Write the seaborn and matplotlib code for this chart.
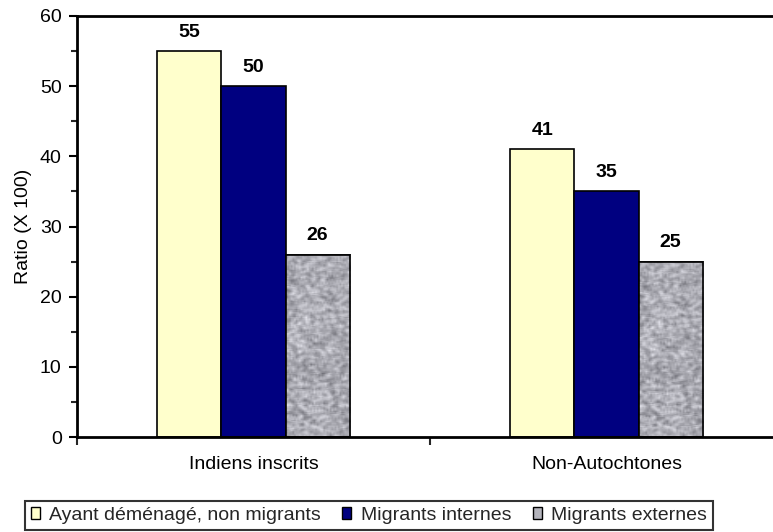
import numpy as np
import pandas as pd
import matplotlib
matplotlib.use("Agg")
import matplotlib.pyplot as plt
from matplotlib.patches import Patch
from matplotlib.ticker import MultipleLocator, FixedLocator
import seaborn as sns

groups = ["Indiens inscrits", "Non-Autochtones"]
series = ["Ayant déménagé, non migrants", "Migrants internes", "Migrants externes"]
values_indiens = [55, 50, 26]
values_non_autochtones = [41, 35, 25]

colors = ["#FFFFCC", "#000080", "#B4B4BC"]

rows = []
for g, vals in zip(groups, [values_indiens, values_non_autochtones]):
    for s, v in zip(series, vals):
        rows.append({"groupe": g, "serie": s, "ratio": v})
df = pd.DataFrame(rows)

sns.set_theme(style="white")
plt.rcParams["font.family"] = ["Liberation Sans", "DejaVu Sans"]

fig = plt.figure(figsize=(7.73, 5.32), dpi=100)
ax = fig.add_axes([77 / 773, 1 - 437 / 532, (783 - 77) / 773, (437 - 16) / 532])

sns.barplot(data=df, x="groupe", y="ratio", hue="serie", order=groups,
            hue_order=series, palette=colors, width=0.544, gap=0,
            edgecolor="black", linewidth=1.2, saturation=1, legend=False, ax=ax)

ax.set_xlim(-0.5, 1.5)
ax.set_ylim(0, 60)

n_groups = len(groups)
bars = list(ax.patches[:3 * n_groups])

# granite-like texture on the external migrants bars
rng = np.random.default_rng(7)
noise = rng.random((160, 40))
pad = np.pad(noise, 1, mode="edge")
smooth = sum(pad[i:i + noise.shape[0], j:j + noise.shape[1]] / 9.0
             for i in range(3) for j in range(3))
smooth = (smooth - smooth.min()) / (smooth.max() - smooth.min())
tex = np.empty(smooth.shape + (3,))
lo = np.array([0.45, 0.45, 0.48])
hi = np.array([0.90, 0.90, 0.93])
for c in range(3):
    tex[..., c] = lo[c] + (hi[c] - lo[c]) * smooth
for bar in bars[2 * n_groups:3 * n_groups]:
    x0, w = bar.get_x(), bar.get_width()
    h = bar.get_height()
    im = ax.imshow(tex, extent=[x0, x0 + w, 0, h], aspect="auto",
                   interpolation="bilinear", zorder=bar.get_zorder() + 0.1)
    im.set_clip_path(bar)
    outline = plt.Rectangle((x0, 0), w, h, facecolor="none", edgecolor="black",
                            linewidth=1.2, zorder=bar.get_zorder() + 0.2)
    ax.add_patch(outline)

ax.set_xlim(-0.5, 1.5)
ax.set_ylim(0, 60)

# value labels
for bar in bars:
    h = bar.get_height()
    ax.annotate(f"{h:.0f}", (bar.get_x() + bar.get_width() / 2, h),
                xytext=(0, 7.5), textcoords="offset points", ha="center",
                va="bottom", fontsize=14, fontweight="bold", color="black")

# spines and ticks
for side in ["left", "bottom", "top"]:
    ax.spines[side].set_visible(True)
    ax.spines[side].set_color("black")
    ax.spines[side].set_linewidth(2)
ax.spines["right"].set_visible(False)

ax.yaxis.set_major_locator(MultipleLocator(10))
ax.yaxis.set_minor_locator(MultipleLocator(5))
ax.tick_params(axis="y", which="major", direction="out", length=6, width=1.5,
               left=True, labelsize=14, colors="black", pad=5)
ax.tick_params(axis="y", which="minor", direction="out", length=4, width=1.5,
               left=True)
ax.xaxis.set_minor_locator(FixedLocator([-0.5, 0.5, 1.5]))
ax.tick_params(axis="x", which="major", length=0, labelsize=14, pad=14,
               colors="black")
ax.tick_params(axis="x", which="minor", direction="out", length=6, width=1.5,
               bottom=True)

ax.set_xlabel("")
ax.set_ylabel("Ratio (X 100)", fontsize=14, color="black", labelpad=6)

handles = [Patch(facecolor=c, edgecolor="black", linewidth=1) for c in colors]
leg = fig.legend(handles, series, loc="lower left",
                 bbox_to_anchor=(25 / 773, 2 / 532),
                 ncol=3, fontsize=14, frameon=True, fancybox=False,
                 handlelength=0.45, handleheight=0.6, handletextpad=0.5,
                 columnspacing=1.1, borderpad=0.3, borderaxespad=0)
leg.get_frame().set_edgecolor("black")
leg.get_frame().set_linewidth(1.5)

fig.savefig("out.png", dpi=100)
